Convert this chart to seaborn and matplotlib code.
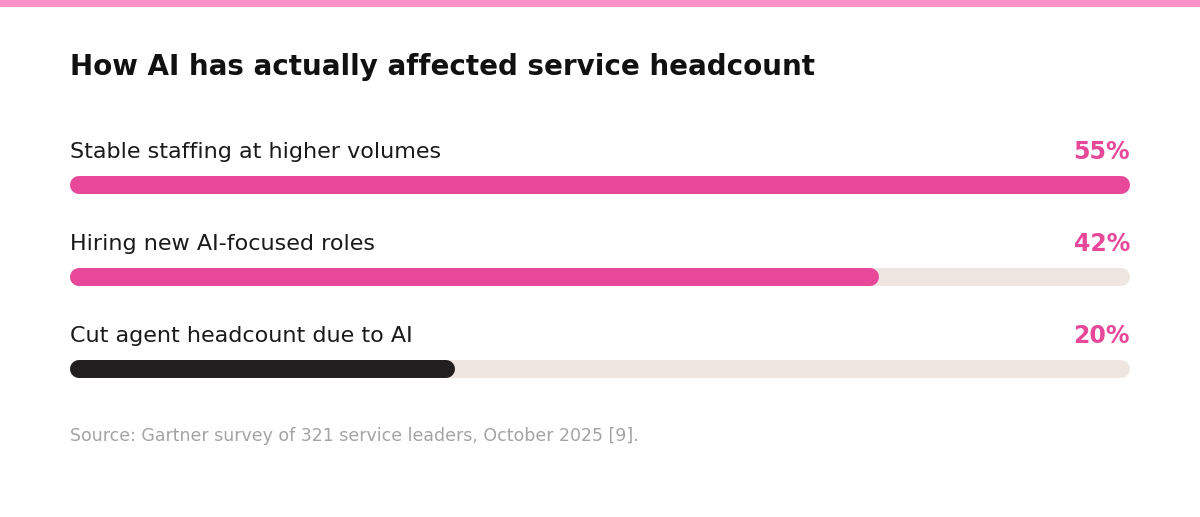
import matplotlib
matplotlib.use("Agg")
import matplotlib.pyplot as plt
import seaborn as sns

categories = ["Stable staffing at higher volumes", "Hiring new AI-focused roles", "Cut agent headcount due to AI"]
values = [55, 42, 20]
bar_colors = ["#E8489A", "#E8489A", "#231F20"]
scale_max = 55

sns.set_theme(style="white")
plt.rcParams['font.family'] = ['DejaVu Sans']

W, H = 1200, 517
fig = plt.figure(figsize=(W / 100, H / 100), dpi=100)
fig.patch.set_facecolor("white")
# pixel-based axes: x from 70 to 1130 px holds 0..scale_max
x0, x1 = 70, 1130
ax = fig.add_axes([0, 0, 1, 1])
ax.set_xlim(-x0 / (x1 - x0) * scale_max, (W - x0) / (x1 - x0) * scale_max)
ax.set_ylim(H, 0)
ax.axis("off")

# top stripe
ax.axhspan(0, 7, color="#FF93C9", lw=0)

px = scale_max / (x1 - x0)
bar_h = 18
r = bar_h / 2 * px
lw = bar_h * 0.72

ax.text(0, 67, "How AI has actually affected service headcount",
        fontsize=20, fontweight="bold", color="#111111", va="center", ha="left")

centers = [185, 277, 369]
for cat, v, c, yc in zip(categories, values, bar_colors, centers):
    ax.plot([r, scale_max - r], [yc, yc], color="#EFE6E1", lw=lw, solid_capstyle="round")
    ax.plot([r, v - r], [yc, yc], color=c, lw=lw, solid_capstyle="round")
    ax.text(0, yc - 33, cat, fontsize=16, color="#1a1a1a", va="center", ha="left")
    ax.text(scale_max, yc - 33, f"{v}%", fontsize=17, fontweight="bold",
            color="#E8489A", va="center", ha="right")

ax.text(0, 436, "Source: Gartner survey of 321 service leaders, October 2025 [9].",
        fontsize=12.5, color="#A3A3A3", va="center", ha="left")

fig.savefig("out.png", dpi=100, facecolor="white")
